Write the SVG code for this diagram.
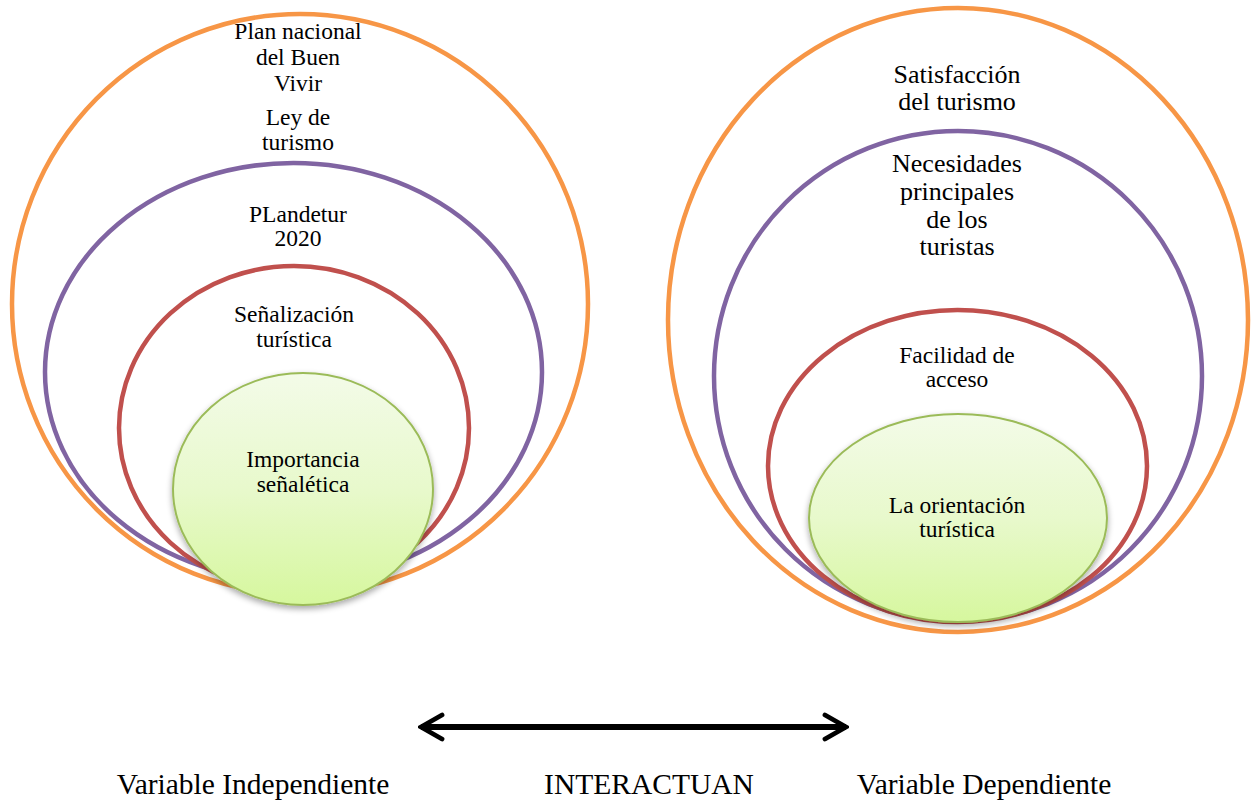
<svg xmlns="http://www.w3.org/2000/svg" width="1257" height="802" viewBox="0 0 1257 802">
<defs>
<linearGradient id="gFill" x1="0" y1="0" x2="0" y2="1">
<stop offset="0" stop-color="#F3FBE8"/>
<stop offset="0.5" stop-color="#E8F9CC"/>
<stop offset="1" stop-color="#D6F79E"/>
</linearGradient>
<filter id="sh" x="-10%" y="-10%" width="120%" height="125%">
<feGaussianBlur in="SourceAlpha" stdDeviation="3"/>
<feOffset dx="0" dy="3" result="b"/>
<feComponentTransfer><feFuncA type="linear" slope="0.35"/></feComponentTransfer>
<feMerge><feMergeNode/><feMergeNode in="SourceGraphic"/></feMerge>
</filter>
<marker id="chev" viewBox="0 0 10 10" refX="9" refY="5" markerWidth="5" markerHeight="5" orient="auto-start-reverse" markerUnits="strokeWidth">
<path d="M2,1 L9,5 L2,9" fill="none" stroke="#000" stroke-width="1.6" stroke-linecap="round" stroke-linejoin="miter"/>
</marker>
</defs>
<style>
.o{fill:none;stroke:#F79646;stroke-width:4.5}
.p{fill:none;stroke:#8064A2;stroke-width:4.5}
.r{fill:none;stroke:#C0504D;stroke-width:4.5}
.g{fill:url(#gFill);stroke:#9BBB59;stroke-width:2;filter:url(#sh)}
text{font-family:"Liberation Serif","Times New Roman",serif;fill:#000;text-anchor:middle}
.t{font-size:23.5px}
.tb{font-size:26px}
.b{font-size:29.5px}
</style>
<rect width="1257" height="802" fill="#fff"/>

<g id="left-orange"><ellipse class="o" cx="300" cy="304" rx="288" ry="290"/></g>
<g id="left-purple"><ellipse class="p" cx="293.5" cy="372" rx="248.5" ry="209"/></g>
<g id="left-red"><ellipse class="r" cx="294" cy="428" rx="175" ry="162"/></g>
<g id="left-green"><ellipse class="g" cx="303" cy="489" rx="130" ry="116"/></g>

<g id="right-orange"><ellipse class="o" cx="958" cy="320" rx="290" ry="312"/></g>
<g id="right-purple"><ellipse class="p" cx="958" cy="376" rx="244" ry="245"/></g>
<g id="right-red"><ellipse class="r" cx="957.5" cy="466" rx="189.5" ry="156"/></g>
<g id="right-green"><ellipse class="g" cx="958" cy="518" rx="149" ry="104"/></g>

<g id="left-labels" font-family="Liberation Serif, Times New Roman, serif">
<text class="t" x="298" y="39">Plan nacional</text>
<text class="t" x="298" y="65">del Buen</text>
<text class="t" x="298" y="91">Vivir</text>
<text class="t" x="298" y="125">Ley de</text>
<text class="t" x="298" y="150">turismo</text>
<text class="t" x="298" y="222">PLandetur</text>
<text class="t" x="298" y="246">2020</text>
<text class="t" x="294" y="322">Señalización</text>
<text class="t" x="294" y="347">turística</text>
<text class="t" x="303" y="467">Importancia</text>
<text class="t" x="303" y="492">señalética</text>
</g>

<g id="right-labels" font-family="Liberation Serif, Times New Roman, serif">
<text class="tb" x="957" y="83">Satisfacción</text>
<text class="tb" x="957" y="110">del turismo</text>
<text class="tb" x="957" y="172">Necesidades</text>
<text class="tb" x="957" y="200">principales</text>
<text class="tb" x="957" y="228">de los</text>
<text class="tb" x="957" y="255">turistas</text>
<text class="t" x="957" y="363">Facilidad de</text>
<text class="t" x="957" y="387">acceso</text>
<text class="t" x="957" y="513">La orientación</text>
<text class="t" x="957" y="537">turística</text>
</g>

<g id="connectors">
<line x1="421" y1="727" x2="846" y2="727" stroke="#000" stroke-width="6" marker-start="url(#chev)" marker-end="url(#chev)"/>
</g>

<g id="bottom-labels" font-family="Liberation Serif, Times New Roman, serif">
<text class="b" x="253" y="794">Variable Independiente</text>
<text class="b" x="649" y="794">INTERACTUAN</text>
<text class="b" x="984" y="794">Variable Dependiente</text>
</g>
</svg>
